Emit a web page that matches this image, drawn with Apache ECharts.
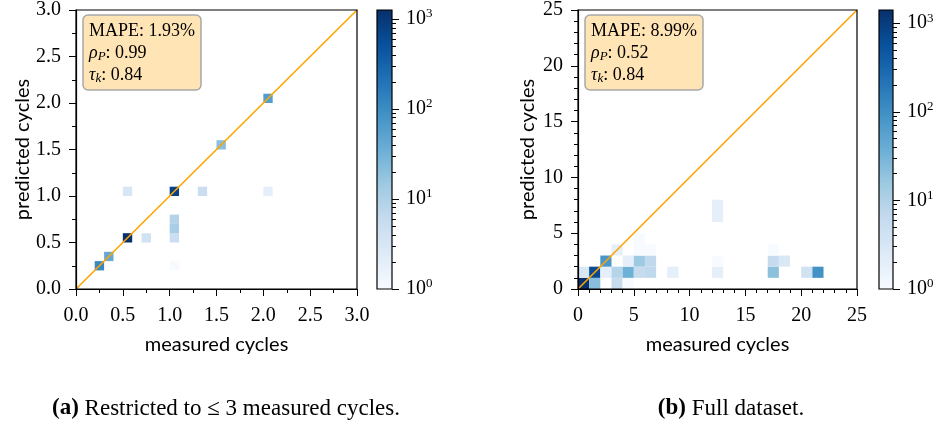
<!DOCTYPE html>
<html>
<head>
<meta charset="utf-8">
<script src="https://cdn.jsdelivr.net/npm/echarts@6/dist/echarts.min.js"></script>
<style>
  html, body { margin: 0; padding: 0; background: #fff; }
  #chart { width: 942px; height: 428px; }
</style>
</head>
<body>
<div id="chart"></div>
<script>
// (a) restricted to <= 3 measured cycles, 0.1 wide bins (lower edges)
const binA = 0.1
const cellAx = [0.2, 0.3, 0.5, 1.0, 1.5, 2.0, 0.5, 1.3, 2.0, 0.7, 1.0, 1.0, 1.0, 1.0]
const cellAy = [0.2, 0.3, 0.5, 1.0, 1.5, 2.0, 1.0, 1.0, 1.0, 0.5, 0.5, 0.6, 0.7, 0.2]
const countA = [110, 41, 1260, 800, 21, 60, 3, 5, 2, 4, 5, 12, 9, 1]
const maxA = 1260

// (b) full dataset, 1 cycle wide bins
const binB = 1
const cellBx = [0, 1, 3, 4, 0, 1, 2, 3, 4, 5, 6, 8, 12, 17, 20, 21, 2, 4, 5, 6, 12, 17, 18, 3, 5, 6, 17, 5, 12, 12]
const cellBy = [0, 0, 0, 0, 1, 1, 1, 1, 1, 1, 1, 1, 1, 1, 1, 1, 2, 2, 2, 2, 2, 2, 2, 3, 3, 3, 3, 4, 6, 7]
const countB = [1410, 22, 6, 1, 3, 700, 2, 9, 35, 6, 7, 2, 2, 21, 4, 93, 80, 2, 15, 7, 1, 6, 3, 2, 1, 1, 1, 1, 2, 2]
const maxB = 1410

const diagA = [[0, 0], [3, 3]]
const diagB = [[0, 0], [25, 25]]

const cbMajor = [1, 10, 100, 1000]
const cbMinor = [2, 3, 4, 5, 6, 7, 8, 9, 20, 30, 40, 50, 60, 70, 80, 90, 200, 300, 400, 500, 600, 700, 800, 900]

const blues = ['#f7fbff', '#deebf7', '#c6dbef', '#9ecae1', '#6baed6', '#4292c6', '#2171b5', '#08519c', '#08306b']

const serif = 'Liberation Serif'
const sans = 'Lato'

const toCells = (xs, ys, cs) => xs.map((x, i) => [x, ys[i], cs[i], Math.log10(cs[i])])

const cellSeries = (data, bw, xi, yi) => ({
  type: 'custom',
  xAxisIndex: xi,
  yAxisIndex: yi,
  clip: true,
  z: 2,
  data: data,
  renderItem: (params, api) => {
    const x0 = api.value(0)
    const y0 = api.value(1)
    const p1 = api.coord([x0, y0 + bw])
    const p2 = api.coord([x0 + bw, y0])
    return {
      type: 'rect',
      shape: { x: p1[0], y: p1[1], width: p2[0] - p1[0], height: p2[1] - p1[1] },
      style: { fill: api.visual('color') }
    }
  }
})

const diagSeries = (data, xi, yi) => ({
  type: 'line',
  xAxisIndex: xi,
  yAxisIndex: yi,
  data: data,
  symbol: 'none',
  silent: true,
  z: 4,
  lineStyle: { color: '#ffa500', width: 1.6 }
})

const cbSeries = (logMax, xi, yi) => ({
  type: 'bar',
  xAxisIndex: xi,
  yAxisIndex: yi,
  data: [logMax],
  barWidth: '100%',
  silent: true,
  itemStyle: {
    color: new echarts.graphic.LinearGradient(0, 1, 0, 0,
      blues.map((c, i) => ({ offset: i / (blues.length - 1), color: c })))
  }
})

const tickLine = { lineStyle: { color: '#000', width: 1 } }

const mainAxis = (gi, max, interval, minorSplit, fmt, name, isY) => ({
  type: 'value',
  gridIndex: gi,
  min: 0,
  max: max,
  interval: interval,
  z: 6,
  name: name,
  nameLocation: 'middle',
  nameGap: isY ? 40 : 46,
  nameTextStyle: { fontFamily: sans, fontSize: 20, color: '#000' },
  axisLine: { show: true, onZero: false, lineStyle: { color: '#000', width: 1.2 } },
  axisTick: { show: true, length: 7, ...tickLine },
  minorTick: { show: true, splitNumber: minorSplit, length: 4, ...tickLine },
  splitLine: { show: false },
  axisLabel: { margin: isY ? 15 : 17, fontFamily: serif, fontSize: 20, color: '#000', formatter: fmt }
})

const cbAxes = (gi, logMax) => [
  {
    type: 'value',
    gridIndex: gi,
    position: 'right',
    min: 0,
    max: logMax,
    axisLine: { show: false },
    splitLine: { show: false },
    axisTick: { show: true, length: 7, customValues: cbMajor.map(Math.log10), ...tickLine },
    axisLabel: {
      margin: 14,
      customValues: cbMajor.map(Math.log10),
      formatter: v => '10{sup|' + Math.round(v) + '}',
      fontFamily: serif,
      fontSize: 20,
      color: '#000',
      rich: { sup: { fontFamily: serif, fontSize: 13, color: '#000', padding: [0, 0, 10, 0] } }
    }
  },
  {
    type: 'value',
    gridIndex: gi,
    position: 'right',
    min: 0,
    max: logMax,
    axisLine: { show: false },
    splitLine: { show: false },
    axisLabel: { show: false },
    axisTick: { show: true, length: 4, customValues: cbMinor.filter(v => v < 10 ** logMax).map(Math.log10), ...tickLine }
  }
]

const cbXAxis = gi => ({ type: 'category', gridIndex: gi, data: ['cb'], show: false })

const logMaxA = Math.log10(maxA)
const logMaxB = Math.log10(maxB)

const frame = { show: true, borderColor: '#000', borderWidth: 1.2, z: 5, backgroundColor: 'transparent' }

const statsBox = (left, lines) => ({
  text: lines,
  left: left,
  top: 15,
  padding: [5, 6, 4, 6],
  backgroundColor: '#ffe4b5',
  borderColor: '#a8a8a8',
  borderWidth: 1.5,
  borderRadius: 5,
  textStyle: {
    fontFamily: serif,
    fontSize: 18,
    fontWeight: 'normal',
    color: '#000',
    lineHeight: 22,
    rich: {
      i: { fontFamily: serif, fontSize: 18, fontStyle: 'italic', color: '#000' },
      sub: { fontFamily: serif, fontSize: 13, fontStyle: 'italic', color: '#000', padding: [8, 0, 0, 0] }
    }
  }
})

const caption = (center, text) => ({
  text: text,
  left: center,
  textAlign: 'center',
  top: 392,
  textStyle: {
    fontFamily: serif,
    fontSize: 23,
    fontWeight: 'normal',
    color: '#000',
    rich: { b: { fontFamily: serif, fontSize: 23, fontWeight: 'bold', color: '#000' } }
  }
})

const chart = echarts.init(document.getElementById('chart'))

chart.setOption({
  animation: false,
  backgroundColor: '#fff',
  title: [
    statsBox(83, 'MAPE: 1.93%\n{i|ρ}{sub|P}: 0.99\n{i|τ}{sub|k}: 0.84'),
    statsBox(585, 'MAPE: 8.99%\n{i|ρ}{sub|P}: 0.52\n{i|τ}{sub|k}: 0.84'),
    caption(221, '{b|(a)} Restricted to ≤ 3 measured cycles.'),
    caption(726, '{b|(b)} Full dataset.')
  ],
  grid: [
    { left: 76, top: 10, width: 281, height: 279, ...frame },
    { left: 377, top: 10, width: 15, height: 279, ...frame },
    { left: 578, top: 10, width: 279, height: 279, ...frame },
    { left: 879, top: 10, width: 14, height: 279, ...frame }
  ],
  xAxis: [
    mainAxis(0, 3, 0.5, 2, v => v.toFixed(1), 'measured cycles', false),
    cbXAxis(1),
    mainAxis(2, 25, 5, 5, v => String(v), 'measured cycles', false),
    cbXAxis(3)
  ],
  yAxis: [
    mainAxis(0, 3, 0.5, 2, v => v.toFixed(1), 'predicted cycles', true),
    ...cbAxes(1, logMaxA),
    mainAxis(2, 25, 5, 5, v => String(v), 'predicted cycles', true),
    ...cbAxes(3, logMaxB)
  ],
  visualMap: [
    { type: 'continuous', show: false, seriesIndex: 0, dimension: 3, min: 0, max: logMaxA, inRange: { color: blues } },
    { type: 'continuous', show: false, seriesIndex: 3, dimension: 3, min: 0, max: logMaxB, inRange: { color: blues } }
  ],
  series: [
    cellSeries(toCells(cellAx, cellAy, countA), binA, 0, 0),
    diagSeries(diagA, 0, 0),
    cbSeries(logMaxA, 1, 1),
    cellSeries(toCells(cellBx, cellBy, countB), binB, 2, 3),
    diagSeries(diagB, 2, 3),
    cbSeries(logMaxB, 3, 4)
  ]
})
</script>
</body>
</html>
